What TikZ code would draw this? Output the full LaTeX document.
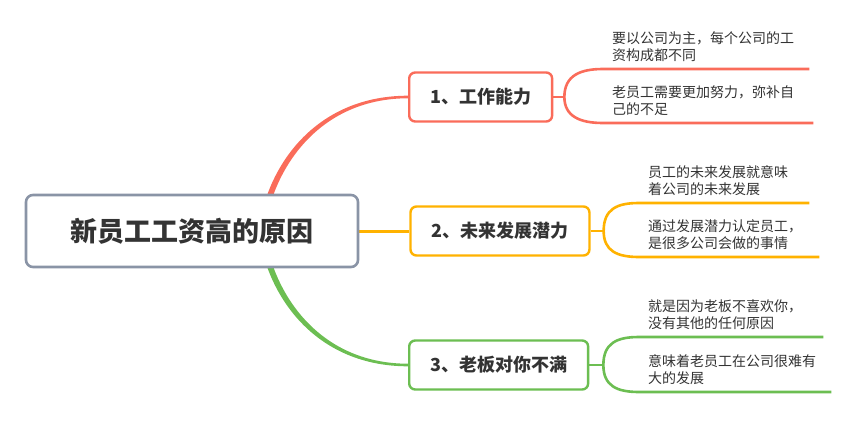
\documentclass[tikz,border=0pt]{standalone}
\usepackage{fontspec}
\setmainfont{Noto Sans CJK SC}
\usetikzlibrary{positioning,backgrounds}
\definecolor{inkgray}{RGB}{51,51,51}
\definecolor{rootgray}{RGB}{138,148,166}
\definecolor{capred}{RGB}{250,108,90}
\definecolor{capyel}{RGB}{255,178,0}
\definecolor{capgrn}{RGB}{108,190,82}

\begin{document}
\begin{tikzpicture}[
  x=1pt, y=-1pt,
  font=\fontsize{14}{17.5}\selectfont, text=inkgray,
  topic/.style={draw=rootgray, line width=2.6pt, rounded corners=7pt, fill=white,
                minimum width=332pt, minimum height=72pt,
                font=\fontsize{27}{32}\selectfont\bfseries},
  cap/.style={draw=#1, line width=2.4pt, rounded corners=6pt, fill=white,
              minimum height=49pt, inner xsep=21pt, anchor=west,
              font=\fontsize{18}{22}\selectfont\bfseries},
  leaf/.style={anchor=south west, align=left, inner xsep=9pt, inner ysep=7pt},
  twig/.style={draw=#1, line width=2.6pt},
]
\useasboundingbox (0,0) rectangle (856,431);
\node[topic] (root) at (192,231) {新员工工资高的原因};
\node[cap=capred] (c1) at (408,97) {1、工作能力};
\node[cap=capyel, right=50pt of root] (c2) {2、未来发展潜力};
\node[cap=capgrn] (c3) at (408,365) {3、老板对你不满};
\coordinate (f1) at ([xshift=11pt]c1.east);
\coordinate (f2) at ([xshift=13pt]c2.east);
\coordinate (f3) at ([xshift=14pt]c3.east);
\node[leaf] (l1a) at (603,69) {要以公司为主，每个公司的工\\资构成都不同};
\node[leaf] (l1b) at (603,123) {老员工需要更加努力，弥补自\\己的不足};
\node[leaf] (l2a) at (639,203) {员工的未来发展就意味\\着公司的未来发展};
\node[leaf] (l2b) at (639,257) {通过发展潜力认定员工，\\是很多公司会做的事情};
\node[leaf] (l3a) at (639,337) {就是因为老板不喜欢你，\\没有其他的任何原因};
\node[leaf] (l3b) at (639,392) {意味着老员工在公司很难有\\大的发展};
\begin{scope}[on background layer]
  % main branches
  \fill[capred] ([shift={(67pt,4pt)}]root.center) .. controls +(10,-65) and +(-90,0) .. ([yshift=1.3pt]c1.west)
    -- ([yshift=-1.3pt]c1.west) .. controls +(-86,0) and +(10,-63) .. ([shift={(73pt,4pt)}]root.center) -- cycle;
  \fill[capgrn] ([shift={(67pt,-4pt)}]root.center) .. controls +(10,65) and +(-90,0) .. ([yshift=-1.3pt]c3.west)
    -- ([yshift=1.3pt]c3.west) .. controls +(-86,0) and +(10,63) .. ([shift={(73pt,-4pt)}]root.center) -- cycle;
  \draw[twig=capyel, line width=3pt] (root) -- (c2);
  % sub branches
  \draw[twig=capred] (c1) -- (f1);
  \draw[twig=capred] (f1) .. controls +(0,-22) and +(-22,0) .. (l1a.south west) -- ([xshift=6pt]l1a.south east);
  \draw[twig=capred] (f1) .. controls +(0,20) and +(-22,0) .. (l1b.south west) -- ([xshift=10pt]l1b.south east);
  \draw[twig=capyel] (c2) -- (f2);
  \draw[twig=capyel] (f2) .. controls +(0,-22) and +(-22,0) .. (l2a.south west) -- ([xshift=12pt]l2a.south east);
  \draw[twig=capyel] (f2) .. controls +(0,20) and +(-22,0) .. (l2b.south west) -- ([xshift=8pt]l2b.south east);
  \draw[twig=capgrn] (c3) -- (f3);
  \draw[twig=capgrn] (f3) .. controls +(0,-22) and +(-22,0) .. (l3a.south west) -- ([xshift=12pt]l3a.south east);
  \draw[twig=capgrn] (f3) .. controls +(0,21) and +(-22,0) .. (l3b.south west) -- ([xshift=6pt]l3b.south east);
\end{scope}
\end{tikzpicture}
\end{document}
